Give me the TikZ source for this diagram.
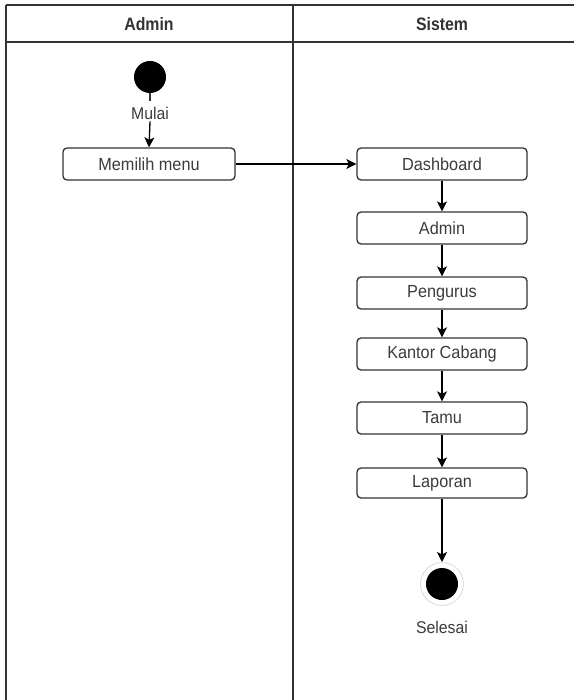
\documentclass[tikz,border=0pt]{standalone}
\usepackage{fontspec}
\setmainfont{Liberation Sans}[FakeStretch=0.93]
\newfontfamily\headfont{Liberation Sans}[FakeStretch=0.88]
\usetikzlibrary{arrows.meta}
\definecolor{ink}{HTML}{333333}
\definecolor{txt}{HTML}{3c3c3c}
\begin{document}
\begin{tikzpicture}[x=1pt,y=-1pt,
  lane/.style={draw=ink,line width=1.7pt},
  act/.style={draw=ink,line width=1.3pt,rounded corners=4pt,minimum width=170pt,minimum height=32pt,inner sep=0pt,font=\fontsize{17.5}{19}\selectfont,text=txt},
  flow/.style={draw=black,line width=1.3pt,-{Stealth[length=10pt,width=10pt,inset=2.5pt]}},
  lbl/.style={font=\fontsize{17}{19}\selectfont,text=txt,inner sep=2pt},
  head/.style={font=\headfont\bfseries\fontsize{18}{20}\selectfont,text=ink}]
\useasboundingbox (0,0) rectangle (574,700);
\fill[white] (0,0) rectangle (574,700);
% swimlane frame
\draw[lane] (6,5) -- (574,5);
\draw[lane] (6,42) -- (574,42);
\draw[lane] (6,5) -- (6,700);
\draw[lane] (293,5) -- (293,700);
\node[head] (hAdmin) at (149,24) {Admin};
\node[head] (hSistem) at (442,24) {Sistem};
% start
\node[circle,fill=black,minimum size=32pt,inner sep=0pt] (start) at (150,77) {};
\node[lbl] (mulai) at (150,113) {Mulai};
\node[act,minimum width=172pt] (menu) at (149,164) {Memilih menu};
\draw[ink,line width=1.2pt] (start.south) -- ++(0,8);
\draw[flow] (mulai.south) -- (menu.north);
% system activities
\node[act] (dash) at (442,164) {Dashboard};
\node[act] (admin) at (442,228) {Admin};
\node[act] (peng) at (442,293) {Pengurus};
\node[act] (kantor) at (442,354) {Kantor Cabang};
\node[act] (tamu) at (442,418) {Tamu};
\node[act,minimum height=30pt] (lap) at (442,483) {Laporan};
% end
\node[circle,draw=black!12,line width=1pt,fill=white,minimum size=43pt,inner sep=0pt] (endring) at (442,584) {};
\node[circle,fill=black,minimum size=32pt,inner sep=0pt] (stop) at (442,584) {};
\node[lbl] (selesai) at (442,627) {Selesai};
% flows
\draw[flow] (menu.east) -- (dash.west);
\draw[flow] (dash) -- (admin);
\draw[flow] (admin) -- (peng);
\draw[flow] (peng) -- (kantor);
\draw[flow] (kantor) -- (tamu);
\draw[flow] (tamu) -- (lap);
\draw[flow] (lap.south) -- (endring.north);
\end{tikzpicture}
\end{document}
